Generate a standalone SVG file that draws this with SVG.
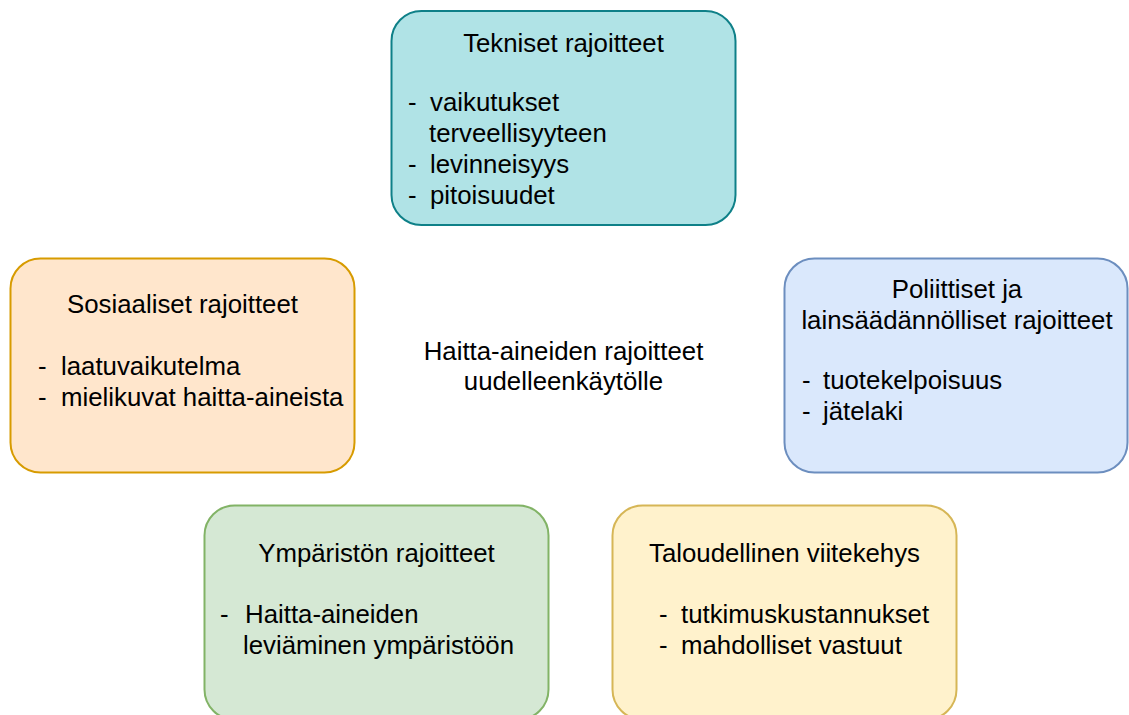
<svg xmlns="http://www.w3.org/2000/svg" width="1129" height="715" viewBox="0 0 1129 715">
<style>
.box{stroke-width:2}
text{font-family:"Liberation Sans",Arial,sans-serif;font-size:25.8px;fill:#000}
.c{text-anchor:middle}
</style>
<rect width="1129" height="715" fill="#ffffff"/>
<g id="connectors"></g>
<g id="tekniset">
<rect class="box" x="391.5" y="11" width="344" height="214" rx="30" fill="#b0e3e6" stroke="#0e8088"/>
<text class="c" x="563.5" y="52">Tekniset rajoitteet</text>
<text><tspan x="408" y="111">-</tspan><tspan x="430" y="111">vaikutukset</tspan><tspan x="429" y="142">terveellisyyteen</tspan><tspan x="408" y="173">-</tspan><tspan x="430" y="173">levinneisyys</tspan><tspan x="408" y="204">-</tspan><tspan x="430" y="204">pitoisuudet</tspan></text>
</g>
<g id="sosiaaliset">
<rect class="box" x="10.5" y="258.5" width="344" height="214" rx="30" fill="#ffe6cc" stroke="#d79b00"/>
<text class="c" x="182.5" y="313">Sosiaaliset rajoitteet</text>
<text><tspan x="38" y="375">-</tspan><tspan x="61" y="375">laatuvaikutelma</tspan><tspan x="38" y="406">-</tspan><tspan x="61" y="406">mielikuvat haitta-aineista</tspan></text>
</g>
<g id="center">
<text class="c" x="563.5" y="360">Haitta-aineiden rajoitteet</text>
<text class="c" x="563.5" y="390">uudelleenkäytölle</text>
</g>
<g id="poliittiset">
<rect class="box" x="784.5" y="258.5" width="343" height="214" rx="30" fill="#dae8fc" stroke="#6c8ebf"/>
<text class="c" x="957" y="298">Poliittiset ja</text>
<text class="c" x="957" y="329">lainsäädännölliset rajoitteet</text>
<text><tspan x="802" y="389">-</tspan><tspan x="823" y="389">tuotekelpoisuus</tspan><tspan x="802" y="420">-</tspan><tspan x="823" y="420">jätelaki</tspan></text>
</g>
<g id="ymparisto">
<rect class="box" x="204.5" y="505.5" width="344" height="214" rx="30" fill="#d5e8d4" stroke="#82b366"/>
<text class="c" x="376.5" y="562">Ympäristön rajoitteet</text>
<text><tspan x="220" y="623">-</tspan><tspan x="245" y="623">Haitta-aineiden</tspan><tspan x="243" y="654">leviäminen ympäristöön</tspan></text>
</g>
<g id="taloudellinen">
<rect class="box" x="612.5" y="505.5" width="344" height="214" rx="30" fill="#fff2cc" stroke="#d6b656"/>
<text class="c" x="784.5" y="562">Taloudellinen viitekehys</text>
<text><tspan x="659" y="623">-</tspan><tspan x="681" y="623">tutkimuskustannukset</tspan><tspan x="659" y="654">-</tspan><tspan x="681" y="654">mahdolliset vastuut</tspan></text>
</g>
</svg>
